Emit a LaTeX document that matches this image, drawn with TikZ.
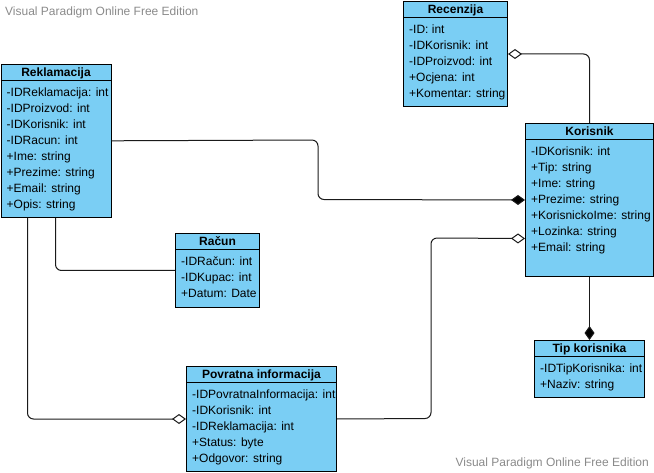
\documentclass[tikz,border=0pt]{standalone}
\usepackage{fontspec}
\setmainfont{Liberation Sans}
\usetikzlibrary{arrows.meta,calc}
\definecolor{clsfill}{HTML}{7ACEF4}
\definecolor{wmgray}{HTML}{8A8A8A}
\definecolor{lineclr}{HTML}{1A1A1A}
\tikzset{
  cls/.style={draw=black, fill=clsfill, line width=1pt, inner sep=0pt},
  clsline/.style={draw=black, line width=0.9pt},
  clstitle/.style={anchor=base, font=\fontsize{12}{14}\selectfont\bfseries, inner sep=0pt},
  clsrow/.style={anchor=base west, font=\fontsize{12}{14}\selectfont, inner sep=0pt},
  conn/.style={draw=lineclr, line width=1pt, rounded corners=6pt},
  fdia/.style={-{Diamond[length=14pt,width=10pt,fill=black]}},
  odia/.style={-{Diamond[length=14pt,width=10pt,fill=white]}},
  wmk/.style={font=\fontsize{12}{14}\selectfont, text=wmgray, inner sep=0pt}
}
\newcommand{\umlcls}[7]{%
  \node[cls, minimum width=#4pt, minimum height=#5pt, anchor=north west] (#1) at (#2,#3) {};
  \draw[clsline] ($(#1.north west)+(0,16.5)$) -- ($(#1.north east)+(0,16.5)$);
  \node[clstitle] (#1-t) at ($(#1.north)+(0,12.8)$) {#6};
  \foreach \r [count=\i] in {#7} \node[clsrow] (#1-r\i) at ($(#1.north west)+(6,16.8+16*\i)$) {\r};
}
\begin{document}
\begin{tikzpicture}[x=1pt,y=-1pt]
\useasboundingbox (0,0) rectangle (654,473);
\umlcls{rek}{0.5}{64}{110}{153}{Reklamacija}{-IDReklamacija: int,-IDProizvod: int,-IDKorisnik: int,-IDRacun: int,+Ime: string,+Prezime: string,+Email: string,+Opis: string}
\umlcls{rec}{403}{1}{104}{105}{Recenzija}{-ID: int,-IDKorisnik: int,-IDProizvod: int,+Ocjena: int,+Komentar: string}
\umlcls{kor}{525}{123}{128}{153}{Korisnik}{-IDKorisnik: int,+Tip: string,+Ime: string,+Prezime: string,+KorisnickoIme: string,+Lozinka: string,+Email: string}
\umlcls{rac}{175}{233}{84}{74}{Račun}{-IDRačun: int,-IDKupac: int,+Datum: Date}
\umlcls{pov}{186}{366}{150}{105}{Povratna informacija}{-IDPovratnaInformacija: int,-IDKorisnik: int,-IDReklamacija: int,+Status: byte,+Odgovor: string}
\umlcls{tip}{534}{340}{110}{57}{Tip korisnika}{-IDTipKorisnika: int,+Naziv: string}
% connectors
\draw[conn, fdia] (rek-r4.base -| rek.east) ++(0,-4) -- (318,140) -- (318,199.5) -- (kor.west);
\draw[conn, odia] (kor.north) |- (rec.east);
\coordinate (korag) at ($(kor.west)+(0,38.5)$);
\draw[conn, odia] (pov.east) -- (431,418.5) -- (431,238) -- (korag);
\draw[conn, fdia] (kor.south) -- (tip.north);
\draw[conn] ($(rek.south west)+(55,0)$) |- (rac.west);
\draw[conn, odia] ($(rek.south west)+(27,0)$) |- (pov.west);
% watermarks
\node[wmk, anchor=west] (wm1) at (5,12) {Visual Paradigm Online Free Edition};
\node[wmk, anchor=east] (wm2) at (649,463) {Visual Paradigm Online Free Edition};
\end{tikzpicture}
\end{document}
